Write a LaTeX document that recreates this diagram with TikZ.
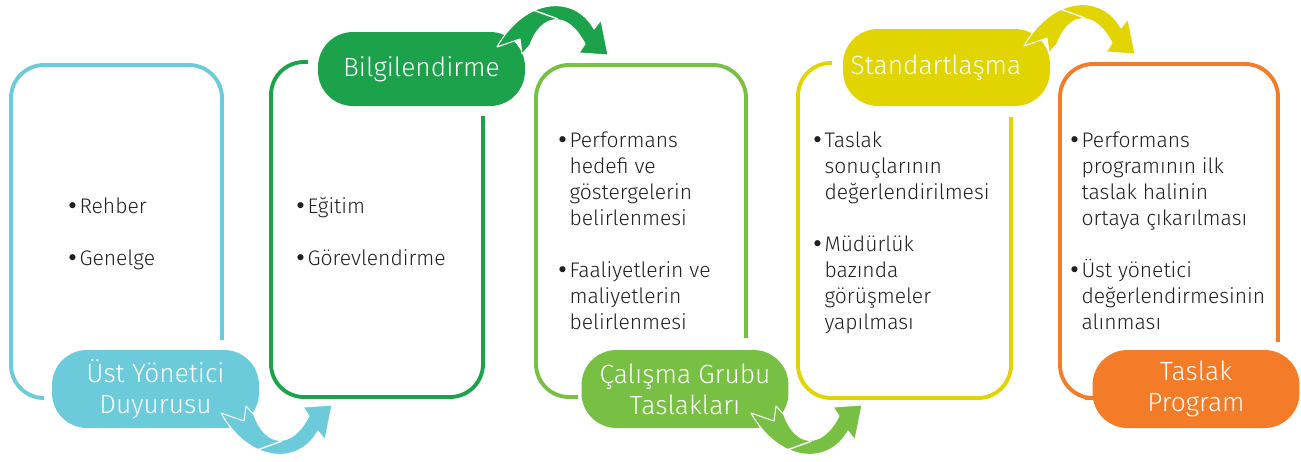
\documentclass[tikz,border=0pt]{standalone}
\usepackage{fontspec}
\setmainfont{Fira Sans}[UprightFont=* Light]
\newfontfamily\bulfont{DejaVu Sans}
\definecolor{skyC}{HTML}{6BCBDB}
\definecolor{leafD}{HTML}{1DA24C}
\definecolor{leafL}{HTML}{77C043}
\definecolor{lemon}{HTML}{E1D400}
\definecolor{carrot}{HTML}{F47B27}
\definecolor{ink}{HTML}{231F20}
\newcommand{\bul}{\makebox[7.5pt][l]{{\bulfont •}}}
\tikzset{
  frame/.style={line width=2.2pt, rounded corners=0.66cm},
  pill/.style={fill=#1, rounded corners=0.7cm, minimum width=4.14cm,
    minimum height=1.56cm, inner sep=0pt, text=white, align=center,
    font=\fontsize{15}{17.5}\selectfont},
  items/.style={anchor=base west, inner sep=0pt, text=ink,
    font=\fontsize{12}{14.8}\selectfont}
}
\begin{document}
\begin{tikzpicture}[x=0.02cm, y=-0.02cm]
  \useasboundingbox (0,0) rectangle (1301,461);
  % frames
  \draw[frame, skyC]   (43,398) -- (11,398) -- (11,65) -- (222,65) -- (222,340);
  \draw[frame, leafD]  (308,62) -- (271,62) -- (271,397) -- (483,397) -- (483,116);
  \draw[frame, leafL]  (578,397) -- (536,397) -- (536,65) -- (746,65) -- (746,338);
  \draw[frame, lemon]  (832,63) -- (798,63) -- (798,398) -- (1011,398) -- (1011,117);
  \draw[frame, carrot] (1085,398) -- (1060,398) -- (1060,64) -- (1278,64) -- (1278,342);
  % labels
  \node[pill=skyC]   (p1) at (155.5,389) {Üst Yönetici\\Duyurusu};
  \node[pill=leafD, minimum height=1.48cm] (p2) at (421.5,69) {Bilgilendirme};
  \node[pill=leafL]  (p3) at (685,389) {Çalışma Grubu\\Taslakları};
  \node[pill=lemon, minimum height=1.54cm] (p4) at (946.5,67.5) {Standartlaşma\hspace{12pt}};
  \node[pill=carrot] (p5) at (1196,389) {Taslak\\Program};
  % texts
  \node[items] (t1) at (66,213) {\begin{tabular}[t]{@{}l@{}l@{}}
    \bul & Rehber\\ & \\ \bul & Genelge\end{tabular}};
  \node[items] (t2) at (294,213) {\begin{tabular}[t]{@{}l@{}l@{}}
    \bul & Eğitim\\ & \\ \bul & Görevlendirme\end{tabular}};
  \node[items] (t3) at (556,147) {\begin{tabular}[t]{@{}l@{}l@{}}
    \bul & Performans\\ & hedefi ve\\ & göstergelerin\\ & belirlenmesi\\ & \\
    \bul & Faaliyetlerin ve\\ & maliyetlerin\\ & belirlenmesi\end{tabular}};
  \node[items] (t4) at (811,147) {\begin{tabular}[t]{@{}l@{}l@{}}
    \bul & Taslak\\ & sonuçlarının\\ & değerlendirilmesi\\ & \\
    \bul & Müdürlük\\ & bazında\\ & görüşmeler\\ & yapılması\end{tabular}};
  \node[items] (t5) at (1068,147) {\begin{tabular}[t]{@{}l@{}l@{}}
    \bul & Performans\\ & programının ilk\\ & taslak halinin\\ & ortaya çıkarılması\\ & \\
    \bul & Üst yönetici\\ & değerlendirmesinin\\ & alınması\end{tabular}};
  % curved arrows
  \foreach \col/\ax/\ay/\fl in {skyC/221/413/1, leafD/497/47/-1, leafL/751/413/1, lemon/1024/46/-1}{
    \begin{scope}[shift={(\ax,\ay)}, yscale=\fl]
      \filldraw[fill=\col, draw=white, line width=0.6pt, line join=round]
        (0,0) -- (23,8) -- (25,-7) -- (33,2)
        .. controls (44,33) and (70,38) .. (88,3)
        -- (82,-6) -- (111,-8) -- (104,27) -- (97,18)
        .. controls (78,53) and (28,50) .. cycle;
      \draw[white, line width=0.8pt] (36,37) -- (61,28);
    \end{scope}
  }
\end{tikzpicture}
\end{document}
